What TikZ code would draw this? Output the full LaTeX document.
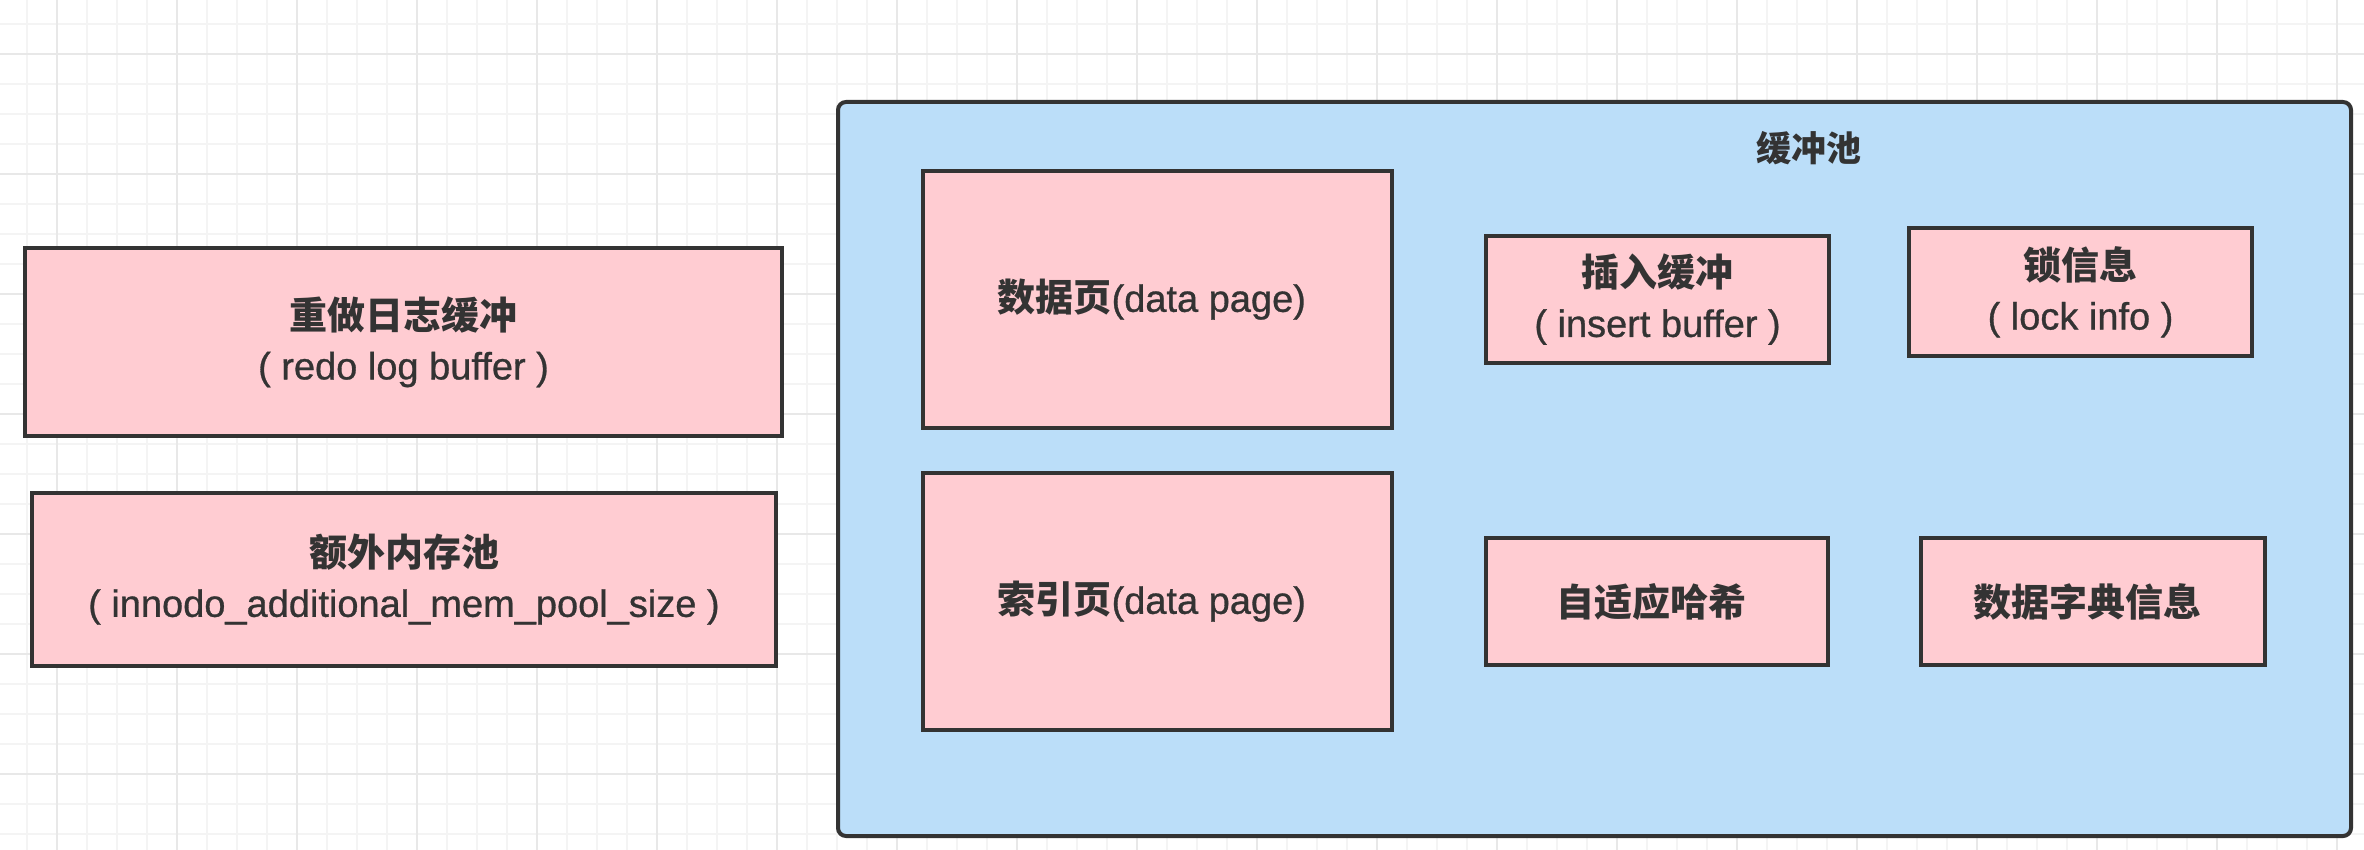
\documentclass[tikz,border=0pt]{standalone}
\usepackage{fontspec}
\usepackage{xcolor}
\newfontfamily\cjk{Noto Sans CJK SC}
\newfontfamily\latin[FakeBold=0.8]{Liberation Sans}
\newcommand\zhtext[1]{{\cjk\bfseries #1}}
\newcommand\entext[1]{{\latin #1}}
\usetikzlibrary{positioning}

\definecolor{linegray}{RGB}{51,51,51}
\definecolor{boxpink}{RGB}{255,204,210}
\definecolor{poolblue}{RGB}{187,222,249}
\definecolor{gridminor}{RGB}{244,244,244}
\definecolor{gridmajor}{RGB}{232,232,232}

\begin{document}
\begin{tikzpicture}[%
    x=0.5pt, y=-0.5pt,          % one unit = one pixel of the screenshot
    ]

\tikzset{
  base/.style={align=center, text=linegray, font=\fontsize{19}{25}\selectfont},
  mem/.style={base, draw=linegray, line width=2pt, fill=boxpink, inner sep=0pt},
  pool/.style={draw=linegray, line width=2pt, fill=poolblue, rounded corners=4pt}
  };

\useasboundingbox (0,0) rectangle (2364,850);

% GRID
\fill[white] (0,0) rectangle (2364,850);
\foreach \x in {27,57,...,2364} \draw[gridminor, line width=1pt] (\x,0) -- (\x,850);
\foreach \y in {24,54,...,850}  \draw[gridminor, line width=1pt] (0,\y) -- (2364,\y);
\foreach \x in {57,177,...,2364} \draw[gridmajor, line width=1pt] (\x,0) -- (\x,850);
\foreach \y in {54,174,...,850}  \draw[gridmajor, line width=1pt] (0,\y) -- (2364,\y);

% Outside the pool
\node[mem, minimum width=378.5pt, minimum height=94pt] (redoLog) at (403.5,342)
    { \zhtext{重做日志缓冲} \\ \entext{( redo log buffer )} };
\node[mem, minimum width=372pt, minimum height=86.5pt] (extraMem) at (404,579.5)
    { \zhtext{额外内存池} \\ \entext{( innodo\_additional\_mem\_pool\_size )} };

% BUFFER POOL
\node[pool, minimum width=756.5pt, minimum height=367pt] (bufferPool) at (1594.5,469) {};
\node[base, font=\fontsize{17.5}{25}\selectfont] (poolLabel) at (1814,148) { \zhtext{缓冲池} };

\node[mem, minimum width=234.5pt, minimum height=128.5pt] (dataPage) at (1157.5,299.5)
    { \zhtext{数据页}\entext{(data page)} };
\node[mem, minimum width=234.5pt, minimum height=128.5pt] (indexPage) at (1157.5,601.5)
    { \zhtext{索引页}\entext{(data page)} };

\node[mem, minimum width=171.5pt, minimum height=63.5pt] (insertBuf) at (1657.5,299.5)
    { \zhtext{插入缓冲} \\ \entext{( insert buffer )} };
\node[mem, minimum width=171.5pt, minimum height=64pt] (lockInfo) at (2080.5,292)
    { \zhtext{锁信息} \\ \entext{( lock info )} };
\node[mem, minimum width=171pt, minimum height=63.5pt] (adaptHash) at (1657,601.5)
    { \zhtext{自适应哈希} };
\node[mem, minimum width=172pt, minimum height=63.5pt] (dataDict) at (2093,601.5)
    { \zhtext{数据字典信息} };

\end{tikzpicture}
\end{document}
